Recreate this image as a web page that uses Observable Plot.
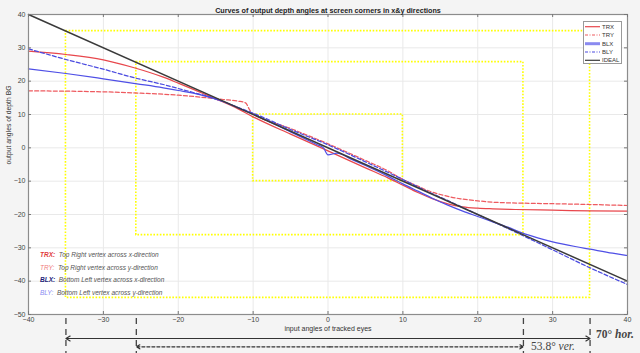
<!DOCTYPE html>
<html><head><meta charset="utf-8">
<script src="https://cdn.jsdelivr.net/npm/d3@7"></script>
<script src="https://cdn.jsdelivr.net/npm/@observablehq/plot@0.6"></script>
<style>
body{margin:0;background:#f4f4f4;}
#wrap{position:relative;width:640px;height:353px;overflow:hidden;font-family:"Liberation Sans",Arial,sans-serif;}
.note{position:absolute;left:40px;font-size:6.5px;line-height:6.5px;font-style:italic;color:#555;white-space:nowrap;}
.ann{position:absolute;font-family:"Liberation Serif","Times New Roman",serif;font-size:11.5px;line-height:11.5px;color:#444;white-space:nowrap;}
#legend{position:absolute;left:583px;top:21px;width:37px;height:41px;background:#fff;border:1px solid #9a9a9a;}
</style></head>
<body><div id="wrap"></div>
<script>
const title = "Curves of output depth angles at screen corners in x&y directions";
const xLabel = "input angles of tracked eyes";
const yLabel = "output angles of depth BG";
const xTicks = [-40,-30,-20,-10,0,10,20,30,40];
const yTicks = [-50,-40,-30,-20,-10,0,10,20,30,40];

const idealX = [-40, 40];
const idealY = [40, -40];
const trxX = [-40,-35,-30,-26,-22,-20,-17,-15,-12,-10,-5,0,5,8,10,12,14,16,18,20,22,25,30,35,40];
const trxY = [29,28,26.4,24.1,21.2,19.4,16.6,14.7,11.7,9.3,4.1,-0.9,-6,-9,-11.2,-13.4,-15.3,-16.8,-17.7,-18.1,-18.3,-18.5,-18.7,-18.9,-19];
const tryX = [-40,-35,-30,-25,-20,-17,-14,-12,-11,-10.5,-10.2,-10,-5,0,5,8,10,12,13.3,15,17.7,20,22,26,31,35,40];
const tryY = [17.1,17,16.8,16.4,15.8,15.2,14.5,14,13.5,11.5,10.5,10.2,5.8,1.2,-3.8,-6.9,-9.5,-11.5,-12.8,-14,-15.3,-15.9,-16.3,-16.6,-16.8,-17,-17.3];
const blxX = [-40,-35,-30,-25.5,-22,-20,-18,-16,-14,-12,-10,-5,-1.5,-0.6,0,1.2,3,5,8,10,12,14,16,18,20,22,24,26,28,30,33,35,38,40];
const blxY = [23.7,22.3,20.7,19.2,18,17.2,16.4,15.3,13.9,12,10.1,4.8,1,0,-2.1,-1.6,-3.3,-5.3,-8.5,-10.8,-13,-15.2,-17.2,-19,-20.6,-22.2,-23.8,-25.6,-27,-28.2,-29.6,-30.4,-31.6,-32.3];
const blyX = [-40,-35,-30,-25.5,-22,-20,-18,-16,-14,-12,-10,-5,0,5,10,13,15,20,26,30,35,40];
const blyY = [29.7,26.5,23.6,20.8,19,17.8,16.6,15.4,13.9,12.1,10.4,5.5,0.9,-4.2,-9.5,-12.8,-14.8,-20,-26.3,-30.6,-36,-41];

const rectX1 = [-35, -25.6, -10];
const rectX2 = [35, 26.1, 10];
const rectY1 = [-45, -26.2, -10];
const rectY2 = [35, 25.7, 10];

const spanMarks = [-35, -25.6, 26.1, 35];
const horSpan = [-35, 35];
const verSpan = [26.1, -25.6];

const seriesNames = ["TRX","TRY","BLX","BLY","IDEAL"];
const seriesColors = ["#e8474c","#ee5a5f","#4f4fe6","#4a4ae0","#3a3a3a"];
const seriesDash = [null,"4,2.2",null,"4,2.2",null];
const seriesXs = [trxX, tryX, blxX, blyX, idealX];
const seriesYs = [trxY, tryY, blxY, blyY, idealY];

const rects = rectX1.map((d,i)=>({x1:d, x2:rectX2[i], y1:rectY1[i], y2:rectY2[i]}));
const yMin = yTicks[0];
const lineMarks = seriesNames.map((n,k)=>{
  const rows = seriesXs[k].map((x,i)=>({x, y: seriesYs[k][i]}));
  return Plot.line(rows, {x:"x", y:"y", stroke: seriesColors[k], strokeWidth: k===4?1.5:1.25,
    strokeDasharray: seriesDash[k] || undefined, curve:"monotone-x"});
});
const mid = (a)=>(a[0]+a[1])/2;
const horArrows = [{a:mid(horSpan), b:horSpan[0]}, {a:mid(horSpan), b:horSpan[1]}];
const verArrows = [{a:mid(verSpan), b:verSpan[1]}, {a:mid(verSpan), b:verSpan[0]}];

const chart = Plot.plot({
  width: 640, height: 353,
  marginLeft: 28, marginRight: 13, marginTop: 14, marginBottom: 39,
  style: {background:"#f4f4f4", fontFamily:"'Liberation Sans', Arial, sans-serif", color:"#444", overflow:"visible"},
  x: {domain:[-40,40]},
  y: {domain:[-50,40]},
  marks: [
    Plot.frame({fill:"white", stroke:"none"}),
    Plot.gridX(xTicks, {stroke:"#e9e9e9", strokeOpacity:1}),
    Plot.gridY(yTicks, {stroke:"#e9e9e9", strokeOpacity:1}),
    Plot.rect(rects, {x1:"x1", x2:"x2", y1:"y1", y2:"y2", fill:"none", stroke:"#ffff00", strokeWidth:1.6, strokeDasharray:"1.6,1.6"}),
    ...lineMarks,
    Plot.frame({stroke:"#8c8c8c", strokeWidth:1.2}),
    Plot.ruleX(xTicks, {y1:-50, y2:-49.1, stroke:"#777"}),
    Plot.ruleX(xTicks, {y1:40, y2:39.1, stroke:"#777"}),
    Plot.ruleY(yTicks, {x1:-40, x2:-39.6, stroke:"#777"}),
    Plot.ruleY(yTicks, {x1:40, x2:39.6, stroke:"#777"}),
    Plot.axisX(xTicks, {tickSize:0, tickPadding:3, label:null, fontSize:7, fill:"#444"}),
    Plot.axisY(yTicks, {tickSize:0, tickPadding:3, label:null, fontSize:7, fill:"#444"}),
    Plot.text([title], {frameAnchor:"top", dy:-7, fontWeight:"bold", fontSize:7.2, fill:"#222"}),
    Plot.text([xLabel], {frameAnchor:"bottom", dy:16, fontSize:7, fill:"#333"}),
    Plot.text([yLabel], {frameAnchor:"left", dx:-20, rotate:-90, fontSize:6.8, fill:"#333"}),
    Plot.ruleX(spanMarks, {y1:yMin-1.2, y2:yMin-11.7, stroke:"#444", strokeWidth:1.3, strokeDasharray:"6,5"}),
    Plot.arrow(horArrows, {x1:"a", x2:"b", y1:yMin-7.2, y2:yMin-7.2, stroke:"#333", strokeWidth:1.2, headLength:6, insetEnd:0}),
    Plot.arrow(verArrows, {x1:"a", x2:"b", y1:yMin-9.7, y2:yMin-9.7, stroke:"#333", strokeWidth:1.2, strokeDasharray:"3,2", headLength:5, insetEnd:0})
  ]
});
const wrap = document.getElementById("wrap");
wrap.appendChild(chart);

const notes = [
  ["TRX:", "#e03a3a", true, "Top Right vertex across x-direction", 252],
  ["TRY:", "#f07c7c", false, "Top Right vertex across y-direction", 264.5],
  ["BLX:", "#1c1c78", true, "Bottom Left vertex across x-direction", 277],
  ["BLY:", "#8a8af2", false, "Bottom Left vertex across y-direction", 289.5]
];
notes.forEach(n=>{
  const d = document.createElement("div");
  d.className = "note"; d.style.top = n[4]+"px";
  d.innerHTML = `<span style="color:${n[1]};${n[2]?'font-weight:bold':''}">${n[0]}</span>&nbsp; ${n[3]}`;
  wrap.appendChild(d);
});

const a1 = document.createElement("div"); a1.className="ann";
a1.style.left="596px"; a1.style.top="329px"; a1.style.fontWeight="bold";
a1.innerHTML = '70° <i>hor.</i>'; wrap.appendChild(a1);
const a2 = document.createElement("div"); a2.className="ann";
a2.style.left="531px"; a2.style.top="341px";
a2.innerHTML = '53.8° <i>ver.</i>'; wrap.appendChild(a2);

const lg = document.createElement("div"); lg.id = "legend";
const rowsY = [4.7, 13, 21.7, 30, 38.3];
const legStyles = [
  {c:"#e8474c", w:1.2, d:null},
  {c:"#ee5a5f", w:1.2, d:"3,1.5,1,1.5"},
  {c:"#8a8af0", w:3, d:null},
  {c:"#4a4ae0", w:1.2, d:"3,1.5,1,1.5"},
  {c:"#3a3a3a", w:1.2, d:null}
];
let svg = '<svg width="37" height="41" style="position:absolute;left:0;top:0">';
seriesNames.forEach((n,i)=>{
  const s = legStyles[i];
  svg += `<line x1="1" x2="16" y1="${rowsY[i]}" y2="${rowsY[i]}" stroke="${s.c}" stroke-width="${s.w}" ${s.d?`stroke-dasharray="${s.d}"`:''}/>`;
  svg += `<text x="18" y="${rowsY[i]}" dy="0.35em" font-size="6" fill="#333" font-family="Liberation Sans, Arial">${n}</text>`;
});
svg += '</svg>';
lg.innerHTML = svg;
wrap.appendChild(lg);
</script>
</body></html>
